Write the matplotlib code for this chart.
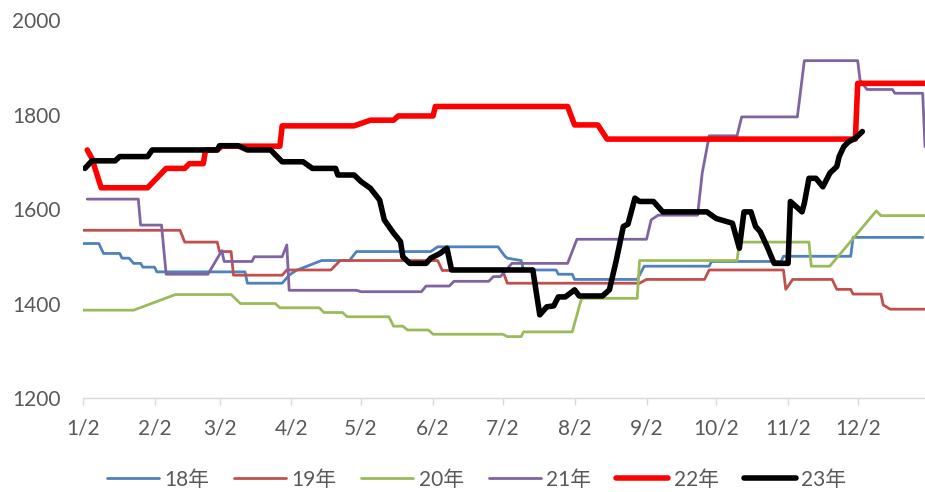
import numpy as np
import matplotlib
matplotlib.use("Agg")
import matplotlib.pyplot as plt

plt.rcParams['font.family'] = ['Lato', 'Noto Sans CJK SC', 'DejaVu Sans']

# day of year (Jan 1 = 1) and price at each change point
d18 = [2, 9, 11, 18, 19, 22, 24, 27, 28, 33, 34, 72, 73, 88, 91, 94, 105, 117, 120, 152, 155, 181,
       184, 185, 191, 192, 206, 207, 213, 214, 241, 244, 272, 273, 303, 304, 333, 334, 364]
v18 = [1527, 1527, 1506, 1506, 1496, 1496, 1485, 1485, 1477, 1477, 1467, 1467, 1443, 1443, 1460, 1470,
       1491, 1491, 1510, 1510, 1520, 1520, 1500, 1496, 1491, 1471, 1471, 1462, 1462, 1451, 1451, 1479,
       1479, 1489, 1489, 1500, 1500, 1540, 1540]

d19 = [2, 44, 46, 60, 61, 66, 67, 88, 90, 109, 113, 155, 157, 183, 185, 242, 245, 270, 272, 304,
       305, 308, 325, 327, 333, 334, 346, 347, 350, 365]
v19 = [1555, 1555, 1530, 1530, 1510, 1510, 1460, 1460, 1471, 1471, 1491, 1491, 1470, 1470, 1443, 1443,
       1451, 1451, 1471, 1471, 1430, 1451, 1451, 1430, 1430, 1420, 1420, 1397, 1388, 1388]

d20 = [2, 24, 42, 66, 70, 85, 87, 104, 106, 114, 116, 134, 136, 140, 142, 151, 153, 183, 185, 191,
       192, 213, 217, 241, 242, 284, 285, 315, 316, 324, 344, 346, 365]
v20 = [1386, 1386, 1419, 1419, 1400, 1400, 1391, 1391, 1381, 1381, 1372, 1372, 1352, 1352, 1344, 1344,
       1335, 1335, 1330, 1330, 1340, 1340, 1411, 1411, 1491, 1491, 1530, 1530, 1479, 1479, 1596, 1586,
       1586]

d21 = [4, 26, 27, 36, 38, 56, 62, 63, 75, 76, 88, 90, 91, 120, 122, 148, 150, 160, 162, 177, 179,
       182, 187, 211, 215, 245, 247, 250, 267, 269, 272, 284, 286, 310, 313, 336, 337, 340, 351, 352,
       364, 365]
v21 = [1621, 1621, 1566, 1566, 1462, 1462, 1512, 1489, 1489, 1499, 1499, 1524, 1428, 1428, 1425, 1425,
       1437, 1437, 1447, 1447, 1457, 1457, 1485, 1485, 1536, 1536, 1577, 1587, 1587, 1676, 1755, 1755,
       1795, 1795, 1914, 1914, 1873, 1853, 1853, 1845, 1845, 1732]

d22 = [4, 6, 10, 30, 38, 46, 48, 54, 55, 60, 62, 87, 88, 119, 126, 136, 138, 153, 154, 211, 214,
       224, 228, 335, 336, 365]
v22 = [1725, 1707, 1645, 1645, 1686, 1686, 1696, 1696, 1725, 1725, 1733, 1733, 1776, 1776, 1788, 1788,
       1797, 1797, 1817, 1817, 1778, 1778, 1748, 1748, 1866, 1866]

d23 = [3, 6, 16, 18, 30, 32, 60, 61, 69, 73, 83, 88, 97, 101, 111, 112, 119, 122, 126, 130, 132,
       136, 139, 140, 143, 150, 152, 156, 159, 161, 196, 199, 202, 205, 207, 210, 214, 216, 226, 229,
       231, 232, 235, 237, 240, 242, 248, 252, 271, 275, 282, 285, 287, 290, 292, 294, 297, 300, 306,
       307, 312, 313, 315, 318, 321, 324, 327, 328, 330, 332, 335, 338]
v23 = [1686, 1702, 1702, 1711, 1711, 1725, 1725, 1734, 1734, 1725, 1725, 1700, 1700, 1686, 1686, 1672,
       1672, 1658, 1644, 1619, 1577, 1549, 1531, 1499, 1485, 1485, 1496, 1506, 1517, 1471, 1471, 1376,
       1393, 1395, 1414, 1414, 1429, 1416, 1416, 1429, 1471, 1492, 1563, 1568, 1623, 1616, 1616, 1594,
       1594, 1580, 1570, 1517, 1594, 1594, 1563, 1552, 1520, 1485, 1485, 1616, 1594, 1612, 1665, 1665,
       1647, 1676, 1690, 1711, 1732, 1742, 1750, 1764]

labels = ['18年', '19年', '20年', '21年', '22年', '23年']
colors = ['#4F81BD', '#C0504D', '#9BBB59', '#8064A2', '#FF0000', '#000000']
tick_labels = ['1/2', '2/2', '3/2', '4/2', '5/2', '6/2', '7/2', '8/2', '9/2', '10/2', '11/2', '12/2']
yticks = [1200, 1400, 1600, 1800, 2000]

base = np.datetime64('2023-01-01')


def to_dates(days):
    return base + np.array(days) - 1


fig = plt.figure(figsize=(9.25, 4.92), dpi=100)
ax = fig.add_axes([0.0893, 0.191, 0.9107, 0.7683])

series = [(d18, v18), (d19, v19), (d20, v20), (d21, v21), (d22, v22), (d23, v23)]
for (d, v), lab, c in zip(series, labels, colors):
    lw = 4.0 if lab in ('22年', '23年') else 2.0
    ax.plot(to_dates(d), v, color=c, lw=lw, label=lab,
            solid_joinstyle='round', solid_capstyle='round')

tick_pos = [np.datetime64('2023-%02d-02' % m) for m in range(1, 13)]
ax.set_xticks(tick_pos)
ax.set_xticklabels(tick_labels)
ax.set_xlim(np.datetime64('2023-01-02'), np.datetime64('2023-12-31'))
ax.set_ylim(1200, 2000)
ax.set_yticks(yticks)

for s in ['top', 'right', 'left']:
    ax.spines[s].set_visible(False)
ax.spines['bottom'].set_color('#D9D9D9')
ax.spines['bottom'].set_linewidth(1.0)
ax.tick_params(axis='x', length=5, width=1.0, color='#D9D9D9', labelsize=15,
               labelcolor='#595959', pad=10)
ax.tick_params(axis='y', length=0, labelsize=15, labelcolor='#595959', pad=16)

fig.legend(loc='center', bbox_to_anchor=(0.515, 0.025), ncol=6, frameon=False,
           fontsize=15, handlelength=2.5, handletextpad=0.25, columnspacing=1.2,
           labelcolor='#595959')

fig.savefig('out.png', dpi=100)
